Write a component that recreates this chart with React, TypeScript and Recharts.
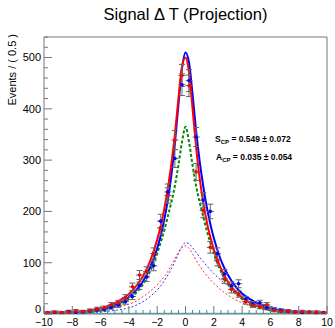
import React from 'react';
import { ComposedChart, Line, Scatter, ErrorBar, XAxis, YAxis, ReferenceLine } from 'recharts';

// histogram bin centres (bin width 0.5)
const binX = [
  -9.75, -9.25, -8.75, -8.25, -7.75, -7.25, -6.75, -6.25, -5.75, -5.25,
  -4.75, -4.25, -3.75, -3.25, -2.75, -2.25, -1.75, -1.25, -0.75, -0.25,
  0.25, 0.75, 1.25, 1.75, 2.25, 2.75, 3.25, 3.75, 4.25, 4.75,
  5.25, 5.75, 6.25, 6.75, 7.25, 7.75, 8.25, 8.75, 9.25, 9.75,
];
const redCounts = [
  3, 4, 3, 4, 6, 5, 7, 10, 12, 18,
  22, 32, 53, 76, 83, 118, 168, 231, 339, 465,
  445, 277, 202, 130, 104, 68, 48, 39, 24, 17,
  14, 18, 7, 5, 6, 4, 5, 3, 4, 2,
];
const blueCounts = [
  2, 3, 2, 5, 3, 4, 6, 8, 9, 13,
  17, 24, 34, 55, 72, 94, 181, 238, 303, 447,
  455, 345, 222, 200, 118, 78, 55, 59, 29, 20,
  22, 12, 9, 7, 5, 4, 3, 4, 2, 3,
];

// fit curves sampled along dt
const curveX = [
  -10, -9, -8, -7, -6, -5.5, -5, -4.5, -4, -3.5, -3, -2.5, -2, -1.75, -1.5, -1.25, -1, -0.75, -0.5, -0.25,
  0, 0.25, 0.5, 0.75, 1, 1.25, 1.5, 1.75, 2, 2.5, 3, 3.5, 4, 4.5, 5, 5.5, 6, 7, 8, 9, 10,
];
const redTotal = [
  1.2, 2, 3.5, 6, 11, 15, 21, 29, 39, 54, 74, 103, 145, 172, 205, 245, 292, 350, 420, 482,
  500, 470, 400, 325, 265, 218, 180, 150, 126, 89, 63, 45, 32, 23, 16.5, 12, 8.5, 4.5, 2.5, 1.5, 1,
];
const blueTotal = [
  1, 1.5, 2.5, 4.5, 8.5, 12, 17, 23.5, 33, 46, 64, 91, 128, 153, 184, 222, 270, 332, 408, 478,
  510, 490, 428, 357, 298, 250, 209, 176, 148, 105, 76, 55, 40, 30, 22, 16, 11.5, 6.5, 3.5, 2, 1.2,
];
const greenCurve = [
  0.5, 1, 2, 3.5, 7, 10, 14, 20, 29, 41, 58, 83, 118, 140, 163, 190, 218, 250, 290, 335,
  365, 335, 290, 250, 218, 190, 163, 140, 118, 83, 58, 41, 29, 20, 14, 10, 7, 3.5, 2, 1, 0.5,
];
const blueDotted = [
  0.5, 0.8, 1.3, 2.2, 4, 5.5, 7, 9, 12, 17, 24, 34, 47, 55, 65, 76, 88, 102, 118, 132,
  139, 137, 129, 120, 111, 102, 94, 86, 79, 66, 55, 45, 37, 30, 24, 19, 15, 9, 5, 3, 2,
];
const redDotted = [
  1, 1.8, 3, 5, 8, 10, 12, 15, 19, 25, 34, 44, 57, 65, 73, 83, 95, 108, 120, 129,
  133, 128, 117, 105, 94, 84, 75, 67, 60, 47, 37, 28, 22, 16, 12, 9, 7, 4, 2, 1.2, 0.7,
];
const bkgX = [-10, 10];
const bkgY = [1, 1];

const xMajor = [-10, -8, -6, -4, -2, 0, 2, 4, 6, 8, 10];
const yMajor = [0, 100, 200, 300, 400, 500];
const xTicks = Array.from({ length: 41 }, (_, i) => -10 + i * 0.5);
const yTicks = Array.from({ length: 28 }, (_, i) => i * 20);

const pts = (xs: number[], ys: number[]) => xs.map((x, i) => ({ x, y: ys[i] }));
const hist = (ys: number[]) => binX.map((x, i) => ({ x, y: ys[i], ex: 0.25, ey: Math.sqrt(ys[i]) }));

const FONT = '"Liberation Sans", Arial, Helvetica, sans-serif';
const AXIS = '#777';

const XTick = (props: any) => {
  const { x, y, payload } = props;
  const v = payload.value;
  const major = xMajor.includes(v);
  return (
    <g>
      <line x1={x} x2={x} y1={y} y2={y - (major ? 8 : 4)} stroke={AXIS} />
      {major && (
        <text x={x} y={y + 11.5} textAnchor="middle" fontSize={10.5} fontFamily={FONT} fill="#000">
          {v < 0 ? '\u2212' + Math.abs(v) : v}
        </text>
      )}
    </g>
  );
};

const YTick = (props: any) => {
  const { x, y, payload } = props;
  const v = payload.value;
  const major = yMajor.includes(v);
  return (
    <g>
      <line x1={x} x2={x + (major ? 8 : 4)} y1={y} y2={y} stroke={AXIS} />
      {major && (
        <text x={x - 3} y={v === 0 ? y - 4.5 : y} dy="0.35em" textAnchor="end" fontSize={11} fontFamily={FONT} fill="#000">
          {v}
        </text>
      )}
    </g>
  );
};

const dot = (color: string) => (p: any) => <circle cx={p.cx} cy={p.cy} r={1.8} fill={color} />;

export default function App() {
  return (
    <div style={{ position: 'absolute', left: 0, top: 0, width: 335, height: 328, background: '#fff' }}>
      <ComposedChart width={335} height={328} margin={{ top: 37, right: 8, bottom: 0, left: 0 }}>
        <XAxis
          dataKey="x"
          type="number"
          domain={[-10, 10]}
          ticks={xTicks}
          interval={0}
          tickSize={0}
          tickMargin={0}
          tick={<XTick />}
          height={14}
          stroke={AXIS}
          allowDataOverflow
        />
        <YAxis
          type="number"
          domain={[0, 540]}
          ticks={yTicks}
          interval={0}
          tickSize={0}
          tickMargin={0}
          tick={<YTick />}
          width={44}
          stroke={AXIS}
          allowDataOverflow
        />
        <ReferenceLine y={540} stroke={AXIS} />
        <ReferenceLine x={10} stroke={AXIS} />
        <Line data={pts(bkgX, bkgY)} dataKey="y" stroke="#33cccc" strokeWidth={1.5} dot={false} isAnimationActive={false} />
        <Line data={pts(curveX, redDotted)} dataKey="y" type="monotone" stroke="#ff3030" strokeWidth={1} strokeDasharray="2 2" dot={false} isAnimationActive={false} />
        <Line data={pts(curveX, blueDotted)} dataKey="y" type="monotone" stroke="#3030ff" strokeWidth={1} strokeDasharray="2 2" dot={false} isAnimationActive={false} />
        <Line data={pts(curveX, greenCurve)} dataKey="y" type="monotone" stroke="#008800" strokeWidth={2} strokeDasharray="3 2" dot={false} isAnimationActive={false} />
        <Line data={pts(curveX, blueTotal)} dataKey="y" type="monotone" stroke="#0000ff" strokeWidth={2} dot={false} isAnimationActive={false} />
        <Line data={pts(curveX, redTotal)} dataKey="y" type="monotone" stroke="#ff0000" strokeWidth={2} dot={false} isAnimationActive={false} />
        <Scatter data={hist(blueCounts)} dataKey="y" shape={dot('#0000ff')} isAnimationActive={false}>
          <ErrorBar dataKey="ey" direction="y" width={3} stroke="#666" strokeWidth={1} />
          <ErrorBar dataKey="ex" direction="x" width={0} stroke="#666" strokeWidth={1} />
        </Scatter>
        <Scatter data={hist(redCounts)} dataKey="y" shape={dot('#ff0000')} isAnimationActive={false}>
          <ErrorBar dataKey="ey" direction="y" width={3} stroke="#666" strokeWidth={1} />
          <ErrorBar dataKey="ex" direction="x" width={0} stroke="#666" strokeWidth={1} />
        </Scatter>
      </ComposedChart>
      <svg width={335} height={328} style={{ position: 'absolute', left: 0, top: 0, pointerEvents: 'none' }}>
        <text x={185.5} y={20} textAnchor="middle" fontSize={16.5} fontFamily={FONT} fill="#000">
          Signal Δ T (Projection)
        </text>
        <text transform="translate(16,34) rotate(-90)" textAnchor="end" fontSize={11} fontFamily={FONT} fill="#000">
          Events / ( 0.5 )
        </text>
        <text x={215} y={142} fontSize={8.5} fontWeight="bold" fontFamily={FONT} fill="#000">
          S<tspan fontSize={6} dy={2}>CP</tspan>
          <tspan dy={-2}> = 0.549 ± 0.072</tspan>
        </text>
        <text x={216} y={160} fontSize={8.5} fontWeight="bold" fontFamily={FONT} fill="#000">
          A<tspan fontSize={6} dy={2}>CP</tspan>
          <tspan dy={-2}> = 0.035 ± 0.054</tspan>
        </text>
      </svg>
    </div>
  );
}
